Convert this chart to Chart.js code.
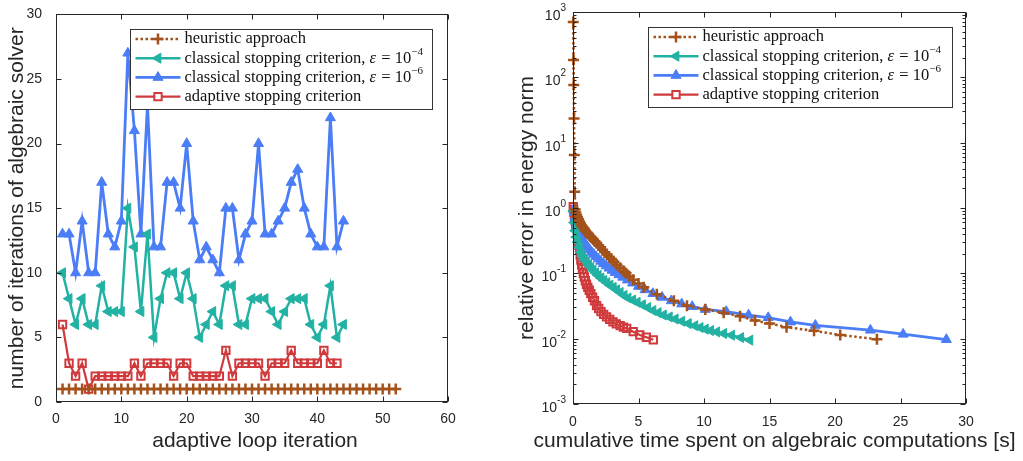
<!DOCTYPE html>
<html>
<head>
<meta charset="utf-8">
<script src="https://cdn.jsdelivr.net/npm/chart.js@4.4.0/dist/chart.umd.min.js"></script>
<style>
  html, body { margin: 0; padding: 0; background: #fff; }
  #wrap { position: relative; width: 1023px; height: 461px; }
  .panel { position: absolute; top: 0; }
  #left { left: 0; }
  #right { left: 500px; }
</style>
</head>
<body>
<div id="wrap">
  <div class="panel" id="left"><canvas id="itersChart" width="480" height="461"></canvas></div>
  <div class="panel" id="right"><canvas id="errorChart" width="523" height="461"></canvas></div>
</div>
<script>
// ---- left panel: algebraic solver iterations per adaptive loop step ----
const heuristicIters = [1,1,1,1,1,1,1,1,1,1, 1,1,1,1,1,1,1,1,1,1, 1,1,1,1,1,1,1,1,1,1, 1,1,1,1,1,1,1,1,1,1, 1,1,1,1,1,1,1,1,1,1, 1,1];
const eps4Iters = [10,8,6,8,6,6,9,7,7,7, 15,12,7,13,5,8,10,10,8,10, 8,5,6,7,6,9,9,6,6,8, 8,8,7,6,7,8,8,8,6,5, 6,9,5,6];
const eps6Iters = [13,13,10,14,10,10,17,13,12,14, 27,21,13,23,12,12,17,17,15,20, 14,11,12,11,10,15,15,11,13,14, 20,13,13,14,15,17,18,15,13,12, 12,22,12,14];
const adaptiveIters = [6,3,2,3,1,2,2,2,2,2, 2,3,2,3,3,3,3,2,3,3, 2,2,2,2,2,4,2,3,3,3, 3,2,3,3,3,4,3,3,3,3, 4,3,3];

// ---- right panel: cumulative algebraic time [s] vs relative error ----
const heuristicTime = [0.02,0.04,0.06,0.08,0.10,0.13, 0.17,0.22,0.28,0.35,0.42,0.5,0.58,0.67,0.76,0.86,
  0.96,1.07,1.18,1.3,1.42,1.55,1.68,1.82,1.96,2.11, 2.26,2.42,2.58,2.75,2.93,3.12,3.35,3.6,
  3.85,4.05,4.3,4.6,5.0,5.4, 6.4,7.7,8.7, 10.1,11.5,12.75,13.9,15.0,16.3,18.4,20.4,23.2];
const heuristicErr = [700,184,76,23.5,6.5,1.77, 0.95,0.85,0.78,0.72,0.67,0.62,0.58,0.54,0.51,0.48,
  0.45,0.42,0.4,0.37,0.35,0.33,0.31,0.29,0.27,0.25, 0.23,0.21,0.195,0.18,0.165,0.15,0.135,0.122,
  0.11,0.1,0.09,0.08,0.07,0.061, 0.048,0.038,0.032, 0.028,0.025,0.022,0.019,0.017,0.015,0.0132,0.0114,0.0098];

const eps4Time = [0.05,0.1,0.18,0.27,0.37,0.48,0.6,0.73,0.87,1.02, 1.18,1.35,1.53,1.72,1.92,2.13,2.35,2.58,2.82,3.07,
  3.33,3.6,3.9,4.2,4.55,4.9,5.3,5.7,6.1,6.5, 6.9,7.35,7.8,8.3,8.8,9.3,9.7,10.1,10.5,10.97, 11.5,12.1,12.8,13.5];
const eps4Err = [0.9,0.6,0.45,0.36,0.3,0.25,0.21,0.185,0.165,0.15, 0.135,0.123,0.112,0.102,0.093,0.085,0.078,0.072,0.066,0.061,
  0.056,0.051,0.046,0.042,0.039,0.036,0.033,0.03,0.027,0.025, 0.023,0.0215,0.02,0.0185,0.017,0.0158,0.0148,0.014,0.0133,0.0127,
  0.012,0.0113,0.0104,0.0095];

const eps6Time = [0.05,0.1,0.16,0.23,0.3,0.38,0.47,0.56,0.66,0.77, 0.88,1.0,1.13,1.27,1.42,1.58,1.75,1.93,2.12,2.32,
  2.53,2.75,2.98,3.22,3.5,3.8,4.15,4.55,5.0,5.5, 6.1,6.8,7.5,8.3,9.1, 10.1,11.7,13.4,14.9,16.6,18.5,22.7,25.2,28.5];
const eps6Err = [0.95,0.85,0.72,0.62,0.55,0.49,0.43,0.39,0.35,0.32, 0.29,0.27,0.25,0.23,0.21,0.195,0.18,0.166,0.153,0.141,
  0.13,0.12,0.111,0.103,0.095,0.087,0.079,0.071,0.063,0.056, 0.049,0.043,0.038,0.034,0.031,
  0.028,0.026,0.023,0.021,0.018,0.016,0.0135,0.0117,0.0097];

const adaptiveTime = [0.02,0.05,0.08,0.11,0.14,0.17,0.2,0.23,0.26,0.3, 0.34,0.38,0.42,0.46,0.5,0.55,0.6,0.66,0.72,0.79,
  0.86,0.94,1.03,1.13,1.24,1.36,1.5,1.64,1.8,1.96, 2.14,2.34,2.56,2.8,3.05,3.3,3.6,3.85,4.1, 4.6,5.1,5.6,6.13];
const adaptiveErr = [1.05,0.95,0.86,0.78,0.71,0.65,0.6,0.56,0.53,0.48, 0.42,0.36,0.31,0.27,0.23,0.19,0.16,0.135,0.117,0.1,
  0.088,0.077,0.068,0.061,0.055,0.049,0.043,0.038,0.032,0.029, 0.026,0.0235,0.0215,0.0197,0.0181,0.0168,0.0158,0.015,0.0144,
  0.0128,0.0114,0.0105,0.0096];

// tick labels
const iterXTicks = [0, 10, 20, 30, 40, 50, 60];
const iterYTicks = [0, 5, 10, 15, 20, 25, 30];
const timeXTicks = [0, 5, 10, 15, 20, 25, 30];
const errDecades = [1e-3, 1e-2, 1e-1, 1e0, 1e1, 1e2, 1e3];
const errExponents = ['-3', '-2', '-1', '0', '1', '2', '3'];

const seriesLabels = [
  [{t: 'heuristic approach'}],
  [{t: 'classical stopping criterion, '}, {t: 'ε', it: true}, {t: ' = 10'}, {t: '−4', sup: true}],
  [{t: 'classical stopping criterion, '}, {t: 'ε', it: true}, {t: ' = 10'}, {t: '−6', sup: true}],
  [{t: 'adaptive stopping criterion'}]
];

const BROWN = '#a3521b', TEAL = '#22b2a3', BLUE = '#4a7df6', RED = '#d03a3c';
const INK = '#262626';
const SANS = "'Liberation Sans', Arial, Helvetica, sans-serif";
const SERIF = "'Liberation Serif', 'Times New Roman', serif";

const toXY = (xs, ys) => ys.map((v, i) => ({x: xs[i], y: v}));
const iterXY = ys => ys.map((v, i) => ({x: i + 1, y: v}));

function styles() {
  return [
    {borderColor: BROWN, borderWidth: 2.5, borderDash: [2.5, 2.5], pointStyle: 'cross', pointRadius: 5.5,
     pointBorderWidth: 2.5, pointBorderColor: BROWN, pointBackgroundColor: BROWN},
    {borderColor: TEAL, borderWidth: 2.5, pointStyle: 'triangle', pointRotation: -90, pointRadius: 5.8,
     pointBorderWidth: 1, pointBorderColor: TEAL, pointBackgroundColor: TEAL},
    {borderColor: BLUE, borderWidth: 2.8, pointStyle: 'triangle', pointRadius: 5.8,
     pointBorderWidth: 1, pointBorderColor: BLUE, pointBackgroundColor: BLUE},
    {borderColor: RED, borderWidth: 2.2, pointStyle: 'rect', pointRadius: 5.2,
     pointBorderWidth: 2, pointBorderColor: RED, pointBackgroundColor: 'rgba(0,0,0,0)'}
  ];
}

// Matlab-like boxed axes: frame, inward ticks, axis titles and a boxed legend
const matlabBox = {
  id: 'matlabBox',
  afterDraw(chart, args, o) {
    const ctx = chart.ctx, a = chart.chartArea;
    const xs = chart.scales.x, ys = chart.scales.y;
    const L = Math.round(a.left) + 0.5, R = Math.round(a.right) - 0.5;
    const T = Math.round(a.top) + 0.5, B = Math.round(a.bottom) - 0.5;
    ctx.save();
    ctx.strokeStyle = INK;
    ctx.lineWidth = 1;
    ctx.setLineDash([]);
    ctx.strokeRect(L, T, R - L, B - T);
    ctx.beginPath();
    o.xTicks.forEach(v => {
      const p = Math.round(xs.getPixelForValue(v)) + 0.5;
      ctx.moveTo(p, B); ctx.lineTo(p, B - 5);
      ctx.moveTo(p, T); ctx.lineTo(p, T + 5);
    });
    o.yTicks.forEach(v => {
      const p = Math.round(ys.getPixelForValue(v)) + 0.5;
      ctx.moveTo(L, p); ctx.lineTo(L + 5, p);
      ctx.moveTo(R, p); ctx.lineTo(R - 5, p);
    });
    if (o.logMinor) {
      o.yTicks.slice(0, -1).forEach(d => {
        for (let k = 2; k <= 9; k++) {
          const p = Math.round(ys.getPixelForValue(k * d)) + 0.5;
          ctx.moveTo(L, p); ctx.lineTo(L + 3, p);
          ctx.moveTo(R, p); ctx.lineTo(R - 3, p);
        }
      });
    }
    ctx.stroke();

    ctx.fillStyle = INK;
    // power-of-ten labels on the log axis
    if (o.expLabels) {
      ctx.textBaseline = 'alphabetic';
      ctx.textAlign = 'right';
      o.yTicks.forEach((v, i) => {
        const p = ys.getPixelForValue(v);
        ctx.font = '10px ' + SANS;
        const ex = o.expLabels[i];
        const supW = ctx.measureText(ex).width;
        const xr = a.left - 7;
        ctx.fillText(ex, xr, p - 1);
        ctx.font = '14px ' + SANS;
        ctx.fillText('10', xr - supW, p + 8);
      });
    }

    // axis titles
    ctx.font = '21px ' + SANS;
    ctx.textAlign = 'center';
    ctx.textBaseline = 'middle';
    ctx.fillText(o.xTitle, (a.left + a.right) / 2 + o.xTitleShift, 441);
    ctx.save();
    ctx.translate(o.yTitleX, (a.top + a.bottom) / 2);
    ctx.rotate(-Math.PI / 2);
    ctx.fillText(o.yTitle, 0, 0);
    ctx.restore();

    // legend
    const lg = o.legend;
    const bx = Math.round(a.left + lg.dx) + 0.5, by = Math.round(a.top + lg.dy) + 0.5;
    ctx.fillStyle = '#fff';
    ctx.fillRect(bx, by, lg.w, lg.h);
    ctx.strokeStyle = '#333';
    ctx.lineWidth = 1;
    ctx.strokeRect(bx, by, lg.w, lg.h);
    chart.data.datasets.forEach((ds, i) => {
      const y = by + 9.5 + i * 19.2;
      ctx.strokeStyle = ds.borderColor;
      ctx.lineWidth = ds.borderWidth;
      ctx.setLineDash(ds.borderDash || []);
      ctx.beginPath();
      ctx.moveTo(bx + 5, y); ctx.lineTo(bx + 50, y);
      ctx.stroke();
      ctx.setLineDash([]);
      ctx.lineWidth = ds.pointBorderWidth;
      ctx.strokeStyle = ds.pointBorderColor;
      ctx.fillStyle = ds.pointStyle === 'rect' ? '#fff' : ds.pointBackgroundColor;
      Chart.helpers.drawPoint(ctx, {pointStyle: ds.pointStyle, rotation: ds.pointRotation || 0,
        radius: ds.pointRadius, borderWidth: ds.pointBorderWidth}, bx + 27.5, y);
      let tx = bx + 54;
      ctx.fillStyle = '#111';
      ctx.textAlign = 'left';
      ctx.textBaseline = 'middle';
      seriesLabels[i].forEach(seg => {
        ctx.font = seg.sup ? '11px ' + SERIF : (seg.it ? 'italic 16.5px ' : '16.5px ') + SERIF;
        ctx.fillText(seg.t, tx, seg.sup ? y - 6 : y);
        tx += ctx.measureText(seg.t).width + (seg.it ? 1 : 0);
      });
    });
    ctx.restore();
  }
};

const tickFont = {family: SANS, size: 14};

function makeDatasets(series) {
  const st = styles();
  return series.map((d, i) => Object.assign({data: d, fill: false, tension: 0, clip: false}, st[i]));
}

// LEFT CHART
new Chart(document.getElementById('itersChart'), {
  type: 'line',
  data: {
    datasets: makeDatasets([
      iterXY(heuristicIters), iterXY(eps4Iters), iterXY(eps6Iters), iterXY(adaptiveIters)
    ])
  },
  options: {
    responsive: false,
    animation: false,
    layout: {padding: {top: 12, right: 32, left: 0, bottom: 0}},
    plugins: {
      legend: {display: false},
      tooltip: {enabled: false},
      matlabBox: {xTicks: iterXTicks, yTicks: iterYTicks, legend: {dx: 74, dy: 15, w: 302, h: 80},
                  xTitle: 'adaptive loop iteration', xTitleShift: 3,
                  yTitle: 'number of iterations of algebraic solver', yTitleX: 17}
    },
    scales: {
      x: {
        type: 'linear', min: 0, max: 60,
        grid: {display: false}, border: {display: false},
        afterBuildTicks: s => { s.ticks = iterXTicks.map(v => ({value: v})); },
        ticks: {font: tickFont, color: INK, padding: 1, maxRotation: 0},
        afterFit: s => { s.height = 59; }
      },
      y: {
        type: 'linear', min: 0, max: 30,
        grid: {display: false}, border: {display: false},
        afterBuildTicks: s => { s.ticks = iterYTicks.map(v => ({value: v})); },
        ticks: {font: tickFont, color: INK, padding: 6},
        afterFit: s => { s.width = 56; }
      }
    }
  },
  plugins: [matlabBox]
});

// RIGHT CHART
new Chart(document.getElementById('errorChart'), {
  type: 'line',
  data: {
    datasets: makeDatasets([
      toXY(heuristicTime, heuristicErr), toXY(eps4Time, eps4Err),
      toXY(eps6Time, eps6Err), toXY(adaptiveTime, adaptiveErr)
    ])
  },
  options: {
    responsive: false,
    animation: false,
    layout: {padding: {top: 12, right: 57, left: 0, bottom: 0}},
    plugins: {
      legend: {display: false},
      tooltip: {enabled: false},
      matlabBox: {xTicks: timeXTicks, yTicks: errDecades, logMinor: true, expLabels: errExponents,
                  legend: {dx: 75, dy: 15, w: 304, h: 80},
                  xTitle: 'cumulative time spent on algebraic computations [s]', xTitleShift: 5,
                  yTitle: 'relative error in energy norm', yTitleX: 27}
    },
    scales: {
      x: {
        type: 'linear', min: 0, max: 30,
        grid: {display: false}, border: {display: false},
        afterBuildTicks: s => { s.ticks = timeXTicks.map(v => ({value: v})); },
        ticks: {font: tickFont, color: INK, padding: 2, maxRotation: 0},
        afterFit: s => { s.height = 57; }
      },
      y: {
        type: 'logarithmic', min: 1e-3, max: 1e3,
        grid: {display: false}, border: {display: false},
        afterBuildTicks: s => { s.ticks = errDecades.map(v => ({value: v})); },
        ticks: {display: false},
        afterFit: s => { s.width = 73; }
      }
    }
  },
  plugins: [matlabBox]
});
</script>
</body>
</html>
